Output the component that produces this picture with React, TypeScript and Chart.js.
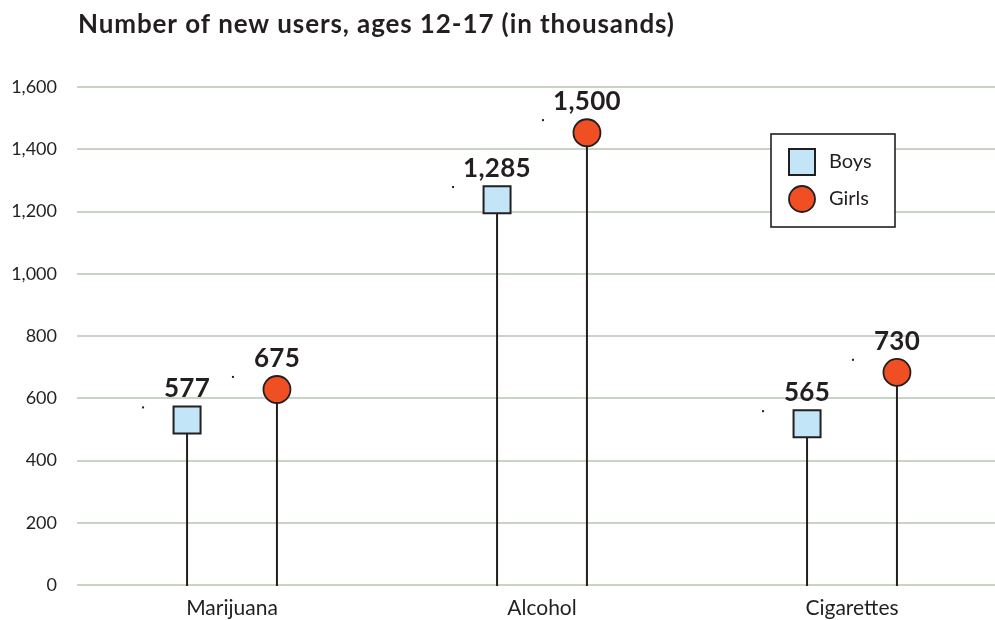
import React, { useEffect, useRef } from 'react';
import { Chart, registerables } from 'chart.js';

Chart.register(...registerables);

const categories = ['Marijuana', 'Alcohol', 'Cigarettes'];
const seriesNames = ['Boys', 'Girls'];
const boysValues = [577, 1285, 565];
const girlsValues = [675, 1500, 730];
const yTickValues = [0, 200, 400, 600, 800, 1000, 1200, 1400, 1600];
const titleText = 'Number of new users, ages 12-17 (in thousands)';

const TEXT = '#231f20';
const GRID = '#c9d3c6';
const BOY_FILL = '#c2e6f8';
const GIRL_FILL = '#f04e23';
const FONT = 'Lato, "Open Sans", sans-serif';
const MARKER_DROP = 14.6;
const MARKER_SIZE = 27;

function drawSquare(ctx: CanvasRenderingContext2D, x: number, y: number, s: number) {
  ctx.beginPath();
  ctx.rect(x - s / 2, y - s / 2, s, s);
  ctx.fillStyle = BOY_FILL;
  ctx.fill();
  ctx.lineWidth = 2;
  ctx.strokeStyle = TEXT;
  ctx.stroke();
}

function drawCircle(ctx: CanvasRenderingContext2D, x: number, y: number, s: number) {
  ctx.beginPath();
  ctx.arc(x, y, s / 2, 0, Math.PI * 2);
  ctx.fillStyle = GIRL_FILL;
  ctx.fill();
  ctx.lineWidth = 1.8;
  ctx.strokeStyle = TEXT;
  ctx.stroke();
}

const lollipopPlugin = {
  id: 'lollipop',
  afterDatasetsDraw(chart: any) {
    const ctx: any = chart.ctx;
    const yScale = chart.scales.y;
    const y0 = yScale.getPixelForValue(0);
    const all = [boysValues, girlsValues];
    ctx.save();
    all.forEach((vals, di) => {
      const meta = chart.getDatasetMeta(di);
      meta.data.forEach((el: any, i: number) => {
        const x = el.x;
        const yv = yScale.getPixelForValue(vals[i]);
        const my = yv + MARKER_DROP;
        ctx.beginPath();
        ctx.moveTo(x, y0 + 1);
        ctx.lineTo(x, my);
        ctx.lineWidth = 2;
        ctx.strokeStyle = TEXT;
        ctx.stroke();
        if (di === 0) drawSquare(ctx, x, my, MARKER_SIZE);
        else drawCircle(ctx, x, my, MARKER_SIZE);
        ctx.fillStyle = TEXT;
        ctx.font = `bold 26px ${FONT}`;
        ctx.letterSpacing = '0.3px';
        ctx.textAlign = 'center';
        ctx.textBaseline = 'alphabetic';
        ctx.fillText(vals[i].toLocaleString('en-US'), x, yv - 8);
        ctx.letterSpacing = '0px';
        ctx.fillRect(x - 45, yv + 1, 2, 2);
      });
    });
    ctx.restore();
  },
  afterDraw(chart: any) {
    const ctx: any = chart.ctx;
    ctx.save();
    // title
    ctx.fillStyle = TEXT;
    ctx.font = `bold 26px ${FONT}`;
    ctx.letterSpacing = '0.9px';
    ctx.textAlign = 'left';
    ctx.textBaseline = 'alphabetic';
    ctx.fillText(titleText, chart.chartArea.left + 1, 33);
    ctx.letterSpacing = '0px';
    // legend
    const bx = 771, by = 134, bw = 124, bh = 93;
    ctx.fillStyle = '#ffffff';
    ctx.fillRect(bx, by, bw, bh);
    ctx.lineWidth = 1.6;
    ctx.strokeStyle = TEXT;
    ctx.strokeRect(bx, by, bw, bh);
    drawSquare(ctx, 802, 162, 26);
    drawCircle(ctx, 802, 199, 26);
    ctx.fillStyle = TEXT;
    ctx.font = `20px ${FONT}`;
    ctx.textAlign = 'left';
    ctx.textBaseline = 'middle';
    ctx.fillText(seriesNames[0], 829, 162);
    ctx.fillText(seriesNames[1], 829, 199);
    ctx.restore();
  },
};

export default function App() {
  const ref = useRef<HTMLCanvasElement | null>(null);
  useEffect(() => {
    if (!ref.current) return;
    const chart = new Chart(ref.current, {
      type: 'bar',
      data: {
        labels: categories,
        datasets: [
          {
            label: seriesNames[0],
            data: boysValues,
            backgroundColor: 'rgba(0,0,0,0)',
            categoryPercentage: 0.58,
            barPercentage: 1,
          },
          {
            label: seriesNames[1],
            data: girlsValues,
            backgroundColor: 'rgba(0,0,0,0)',
            categoryPercentage: 0.58,
            barPercentage: 1,
          },
        ],
      },
      options: {
        animation: false,
        responsive: true,
        maintainAspectRatio: false,
        events: [],
        layout: { padding: { left: 0, right: 3, top: 87, bottom: 0 } },
        plugins: {
          legend: { display: false },
          tooltip: { enabled: false },
          title: { display: false },
        },
        scales: {
          x: {
            grid: { display: false, drawTicks: false },
            border: { display: false },
            afterFit: (scale: any) => {
              scale.height = 35;
            },
            ticks: {
              color: TEXT,
              font: { family: FONT, size: 21, lineHeight: 1.2 },
              padding: 11,
              maxRotation: 0,
            },
          },
          y: {
            min: 0,
            max: 1600,
            afterBuildTicks: (scale: any) => {
              scale.ticks = yTickValues.map((v) => ({ value: v }));
            },
            afterFit: (scale: any) => {
              scale.width = 77;
            },
            grid: { color: GRID, lineWidth: 2, drawTicks: false },
            border: { display: false },
            ticks: {
              color: TEXT,
              font: { family: FONT, size: 18 },
              padding: 20,
              callback: (v: any) => Number(v).toLocaleString('en-US'),
            },
          },
        },
      },
      plugins: [lollipopPlugin],
    });
    return () => chart.destroy();
  }, []);

  return (
    <div style={{ position: 'fixed', left: 0, top: 0, width: 995, height: 620, overflow: 'hidden', background: '#fff' }}>
      <div style={{ position: 'relative', width: 1010, height: 620 }}>
        <canvas ref={ref} />
      </div>
    </div>
  );
}
